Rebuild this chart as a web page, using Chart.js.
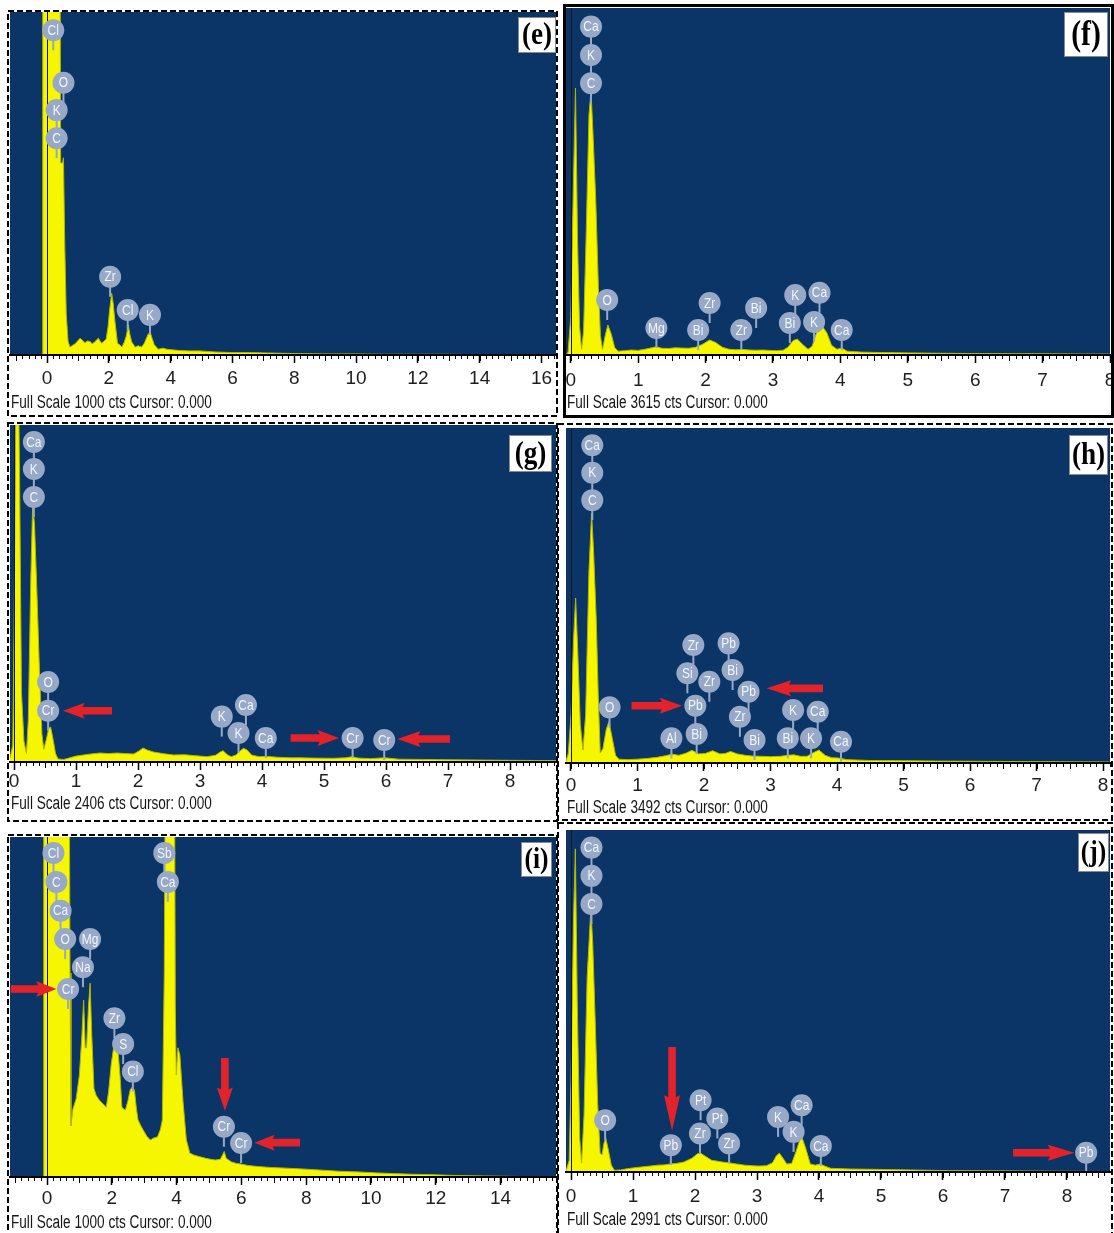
<!DOCTYPE html>
<html>
<head>
<meta charset="utf-8">
<title>EDS spectra (e)–(j)</title>
<script src="https://cdn.jsdelivr.net/npm/chart.js@4.4.1/dist/chart.umd.min.js"></script>
<style>
  html, body { margin: 0; padding: 0; background: #ffffff; width: 1114px; height: 1233px; overflow: hidden; }
  canvas { position: absolute; }
</style>
</head>
<body>
<script>
// ---------------- Spectrum data (energy in keV, intensity in counts) ----------------
const panelTags  = ['(e)', '(f)', '(g)', '(h)', '(i)', '(j)'];
const fullScales = [1000, 3615, 2406, 3492, 1000, 2991];

const eEnergy = [-1.2,-0.16,-0.14,0.05,0.25,0.41,0.44,0.50,0.53,0.57,0.62,0.68,0.74,0.82,0.90,0.98,1.07,1.15,1.23,1.31,1.39,1.46,1.53,1.60,1.66,1.72,1.77,1.84,1.91,1.97,2.02,2.09,2.14,2.20,2.28,2.35,2.42,2.50,2.56,2.63,2.68,2.74,2.85,2.95,3.06,3.15,3.22,3.28,3.34,3.40,3.47,3.60,3.75,3.87,4.05,4.30,4.60,4.95,5.40,6.00,6.60,7.10,7.60,8.20,9.00,10.0,11.0,12.0,13.0,14.0,15.0,16.0,16.5];
const eCounts = [0,0,1500,2600,2600,1500,560,560,575,330,120,40,23,28,32,40,49,42,36,41,39,33,37,44,49,40,34,40,46,80,128,180,150,95,34,30,23,38,55,87,60,38,23,27,23,35,50,62,66,48,30,17,20,17,15,13,12,12,9,7,7,6,5,4,3,3,2,2,2,1,1,1,1];

const fEnergy = [-0.07,-0.04,0.00,0.04,0.07,0.10,0.13,0.16,0.19,0.23,0.27,0.30,0.33,0.37,0.41,0.44,0.47,0.51,0.55,0.60,0.65,0.70,0.80,0.90,1.00,1.10,1.20,1.27,1.35,1.45,1.55,1.65,1.75,1.85,1.95,2.06,2.15,2.25,2.35,2.45,2.55,2.65,2.75,2.85,2.95,3.05,3.15,3.22,3.30,3.36,3.44,3.52,3.58,3.65,3.72,3.80,3.87,3.95,4.02,4.10,4.30,4.60,5.00,5.50,6.00,6.50,7.00,7.50,8.00];
const fCounts = [0,30,400,1800,2780,1200,300,60,250,1300,2500,2750,2300,1620,700,200,60,200,313,220,80,40,45,52,48,60,75,87,70,68,75,72,70,80,110,156,130,80,60,55,58,52,50,52,48,45,50,80,150,167,110,60,90,240,313,230,100,60,73,40,30,26,22,18,15,13,12,10,9];

const gEnergy = [-0.065,-0.02,0.00,0.03,0.06,0.09,0.12,0.16,0.20,0.23,0.27,0.30,0.33,0.37,0.41,0.45,0.48,0.52,0.56,0.59,0.63,0.67,0.71,0.80,0.90,1.00,1.12,1.25,1.39,1.52,1.66,1.80,1.93,2.02,2.08,2.15,2.25,2.40,2.57,2.75,2.89,3.00,3.11,3.25,3.32,3.37,3.44,3.50,3.58,3.65,3.70,3.76,3.83,3.95,4.08,4.25,4.45,4.61,4.80,5.00,5.15,5.35,5.45,5.55,5.75,5.98,6.20,6.60,7.00,7.50,8.00,8.74];
const gCounts = [30,120,900,2600,3200,2000,500,150,60,300,1300,1830,1700,1200,650,200,90,160,240,250,160,60,22,18,30,42,50,58,64,60,64,60,57,80,100,85,71,60,50,52,46,42,38,48,70,81,52,38,50,80,98,85,50,38,40,34,30,30,28,27,26,30,38,28,24,30,20,18,16,14,12,10];

const hEnergy = [-0.075,-0.04,0.00,0.04,0.07,0.10,0.14,0.18,0.22,0.27,0.31,0.34,0.38,0.41,0.44,0.48,0.53,0.57,0.62,0.67,0.72,0.85,1.00,1.15,1.30,1.42,1.52,1.62,1.72,1.82,1.92,2.02,2.13,2.24,2.32,2.40,2.50,2.62,2.72,2.85,3.00,3.15,3.26,3.35,3.45,3.55,3.65,3.73,3.82,3.92,4.02,4.15,4.50,5.00,5.50,6.00,6.50,7.00,7.50,8.10];
const hCounts = [20,100,500,1300,1720,1200,400,135,500,2000,2605,2200,1490,700,104,150,350,430,260,80,40,35,40,48,60,75,92,80,100,132,95,100,128,95,100,120,95,80,73,70,66,70,80,85,70,70,110,135,80,55,52,35,26,24,20,18,16,14,12,10];

const iEnergy = [-1.142,-0.12,-0.10,0.20,0.50,0.68,0.71,0.74,0.80,0.90,1.00,1.08,1.13,1.18,1.22,1.28,1.33,1.38,1.45,1.52,1.60,1.68,1.76,1.83,1.90,1.98,2.06,2.14,2.20,2.26,2.31,2.36,2.42,2.50,2.57,2.64,2.70,2.76,2.81,2.90,2.97,3.08,3.19,3.30,3.41,3.50,3.56,3.62,3.66,3.93,3.96,3.99,4.04,4.10,4.20,4.30,4.41,4.55,4.70,4.90,5.05,5.20,5.35,5.42,5.47,5.53,5.70,5.85,5.99,6.20,6.50,6.90,7.40,8.00,8.50,9.00,9.60,10.2,10.7,11.3,11.8,12.4,12.9,13.5,14.2,15.0,15.71];
const iCounts = [0,0,1400,2500,2500,1400,600,150,200,230,300,420,520,380,380,500,570,420,260,240,228,220,212,206,250,330,383,375,362,290,206,200,197,225,257,265,255,200,168,150,138,120,109,115,118,140,168,600,1400,1400,500,300,380,360,220,110,70,64,60,55,52,50,52,65,75,55,44,40,38,34,31,28,26,23,20,17,15,12,10,8,7,5,4,3,2,1,1];

const jEnergy = [-0.081,-0.03,0.00,0.04,0.07,0.10,0.14,0.17,0.21,0.26,0.32,0.35,0.39,0.43,0.47,0.50,0.53,0.56,0.60,0.65,0.70,0.80,0.90,0.99,1.10,1.20,1.28,1.40,1.50,1.60,1.70,1.82,1.95,2.04,2.09,2.16,2.27,2.36,2.44,2.55,2.67,2.80,2.92,3.02,3.15,3.25,3.31,3.36,3.42,3.48,3.56,3.63,3.69,3.73,3.79,3.86,3.94,4.02,4.10,4.19,4.50,4.94,5.50,6.09,6.70,7.24,8.00,8.69];
const jCounts = [10,100,800,2200,2826,1500,300,78,500,1700,2300,2000,1325,600,165,150,250,296,200,60,15,18,28,35,42,48,52,60,62,70,75,87,120,160,165,140,102,95,87,80,70,60,55,52,55,80,140,165,120,70,75,180,280,296,200,70,60,70,50,32,26,23,18,12,10,9,6,4];

// ---------------- Element markers: [symbol, energy keV, marker height in counts] ----------------
const eMarkers = [['Cl',0.20,947],['O',0.53,794],['K',0.31,714],['C',0.31,632],['Zr',2.04,228],['Cl',2.61,131],['K',3.33,117]];
const fMarkers = [['Ca',0.30,3421],['K',0.30,3126],['C',0.30,2831],['O',0.54,573],['Mg',1.27,281],['Bi',1.89,260],['Zr',2.06,542],['Zr',2.53,260],['Bi',2.75,490],['K',3.33,625],['Ca',3.69,649],['Bi',3.25,333],['K',3.61,344],['Ca',4.02,260]];
const gMarkers = [['Ca',0.32,2285],['K',0.32,2092],['C',0.32,1892],['O',0.55,571],['Cr',0.55,366],['K',3.35,324],['Ca',3.74,407],['K',3.62,207],['Ca',4.06,171],['Cr',5.46,171],['Cr',5.97,157]];
const hMarkers = [['Ca',0.32,3313],['K',0.32,3025],['C',0.32,2740],['O',0.58,580],['Zr',1.84,1230],['Pb',2.37,1247],['Si',1.75,935],['Bi',2.43,969],['Zr',2.08,847],['Pb',2.67,743],['Pb',1.87,597],['K',3.34,552],['Ca',3.71,535],['Zr',2.54,482],['Al',1.51,257],['Bi',1.89,302],['Bi',2.76,240],['Bi',3.26,257],['K',3.61,257],['Ca',4.06,222]];
const iMarkers = [['Cl',0.20,953],['Sb',3.62,953],['C',0.29,868],['Ca',3.73,868],['Ca',0.42,783],['O',0.56,700],['Mg',1.33,700],['Na',1.11,617],['Cr',0.65,553],['Zr',2.08,467],['S',2.35,391],['Cl',2.65,310],['Cr',5.46,148],['Cr',5.99,100]];
const jMarkers = [['Ca',0.33,2837],['K',0.33,2590],['C',0.33,2343],['O',0.55,453],['Pt',2.09,628],['Pt',2.36,468],['Zr',2.08,337],['Zr',2.55,250],['Pb',1.61,235],['K',3.34,482],['Ca',3.72,584],['K',3.59,351],['Ca',4.03,227],['Pb',8.31,168]];

// ---------------- Highlight arrows: [tail keV, tail counts, tip keV, tip counts] ----------------
const eArrows = [];
const fArrows = [];
const gArrows = [[1.58,366,0.79,366],[4.46,171,5.24,171],[7.03,164,6.18,164]];
const hArrows = [[0.91,597,1.67,597],[3.79,778,2.94,778]];
const iArrows = [[-1.12,553,0.29,553],[5.49,350,5.49,195],[7.81,101,6.40,101]];
const jArrows = [[1.63,1093,1.63,360],[7.13,168,8.12,168]];

const spectra = [
  { energy: eEnergy, counts: eCounts, markers: eMarkers, arrows: eArrows },
  { energy: fEnergy, counts: fCounts, markers: fMarkers, arrows: fArrows },
  { energy: gEnergy, counts: gCounts, markers: gMarkers, arrows: gArrows },
  { energy: hEnergy, counts: hCounts, markers: hMarkers, arrows: hArrows },
  { energy: iEnergy, counts: iCounts, markers: iMarkers, arrows: iArrows },
  { energy: jEnergy, counts: jCounts, markers: jMarkers, arrows: jArrows }
];

// ---------------- Panel geometry (page pixels) ----------------
const panels = [
  { frame:{x:7,  y:10,  w:551, h:407, solid:false}, area:{l:10,  t:12,  r:556,  b:355},  xMin:-1.2,   xMax:16.47, step:2, minor:0.2, mid:1,   tickPad:4, footerDy:53, tag:{cx:537,   cy:35,    w:38, h:36, size:32} },
  { frame:{x:563,y:4,   w:551, h:414, solid:true},  area:{l:566, t:8,   r:1110, b:355},  xMin:-0.071, xMax:8.0,   step:1, minor:0.1, mid:0.5, tickPad:6, footerDy:53, tag:{cx:1086,  cy:34.5,  w:44, h:45, size:35} },
  { frame:{x:7,  y:422, w:551, h:400, solid:false}, area:{l:10,  t:425, r:556,  b:762},  xMin:-0.065, xMax:8.74,  step:1, minor:0.1, mid:0.5, tickPad:0, footerDy:47, tag:{cx:530.5, cy:453.5, w:43, h:37, size:32} },
  { frame:{x:557,y:423, w:556, h:398, solid:false}, area:{l:566, t:428, r:1110, b:763},  xMin:-0.075, xMax:8.105, step:1, minor:0.1, mid:0.5, tickPad:3, footerDy:50, tag:{cx:1088.5,cy:455,   w:39, h:40, size:32} },
  { frame:{x:7,  y:834, w:551, h:402, solid:false}, area:{l:10,  t:837, r:556,  b:1177}, xMin:-1.142, xMax:15.71, step:2, minor:0.2, mid:1,   tickPad:2, footerDy:51, tag:{cx:536.5, cy:859.5, w:31, h:35, size:30} },
  { frame:{x:557,y:822, w:556, h:414, solid:false}, area:{l:566, t:830, r:1110, b:1172}, xMin:-0.081, xMax:8.694, step:1, minor:0.1, mid:0.5, tickPad:5, footerDy:53, tag:{cx:1093.5,cy:852.5, w:31, h:39, size:30} }
];

const NAVY = '#0a3566';
const SPECTRUM_FILL = '#f6f600';
const SPECTRUM_EDGE = '#b3b600';
const MARK_FILL = '#97a9c6';
const MARK_TEXT = '#f2f5fa';
const ARROW_RED = '#e3232b';
const FONT_SANS = "'Liberation Sans', Arial, sans-serif";
const FONT_NARROW = "'Liberation Sans Narrow', 'Arial Narrow', 'Liberation Sans', sans-serif";

function drawArrow(ctx, x1, y1, x2, y2) {
  const dx = x2 - x1, dy = y2 - y1, len = Math.hypot(dx, dy);
  const head = Math.max(18, len * 0.4);
  ctx.save();
  ctx.translate(x1, y1);
  ctx.rotate(Math.atan2(dy, dx));
  ctx.fillStyle = ARROW_RED;
  ctx.beginPath();
  ctx.moveTo(0, -3.8);
  ctx.lineTo(len - head, -3.8);
  ctx.lineTo(len - head - 2, -8);
  ctx.lineTo(len, 0);
  ctx.lineTo(len - head - 2, 8);
  ctx.lineTo(len - head, 3.8);
  ctx.lineTo(0, 3.8);
  ctx.closePath();
  ctx.fill();
  ctx.restore();
}

function drawMarker(ctx, symbol, px, py) {
  const r = 11;
  ctx.fillStyle = MARK_FILL;
  ctx.fillRect(px - 1, py + r - 2, 2, 11);
  ctx.beginPath();
  ctx.arc(px, py, r, 0, Math.PI * 2);
  ctx.fill();
  ctx.save();
  ctx.translate(px, py + 0.5);
  ctx.scale(0.8, 1);
  ctx.fillStyle = MARK_TEXT;
  ctx.font = '15px ' + FONT_SANS;
  ctx.textAlign = 'center';
  ctx.textBaseline = 'middle';
  ctx.fillText(symbol, 0, 0);
  ctx.restore();
}

// Draws the navy plot field, cursor line, peak markers, arrows, minor ticks, caption, tag and frame.
const edsDecor = {
  id: 'edsDecor',
  beforeDraw(chart) {
    const { ctx, chartArea: a } = chart;
    ctx.save();
    ctx.fillStyle = NAVY;
    ctx.fillRect(a.left, a.top, a.right - a.left, a.bottom - a.top);
    ctx.restore();
  },
  afterDatasetsDraw(chart) {
    const o = chart.options.plugins.edsDecor;
    const { ctx, chartArea: a } = chart;
    const x = chart.scales.x, y = chart.scales.y;
    ctx.save();
    ctx.beginPath();
    ctx.rect(a.left, a.top, a.right - a.left, a.bottom - a.top);
    ctx.clip();
    const cx = Math.round(x.getPixelForValue(0)) + 0.5;
    ctx.strokeStyle = '#141414';
    ctx.lineWidth = 1;
    ctx.beginPath();
    ctx.moveTo(cx, a.top);
    ctx.lineTo(cx, a.bottom);
    ctx.stroke();
    o.arrows.forEach(ar => drawArrow(ctx,
      x.getPixelForValue(ar[0]), y.getPixelForValue(ar[1]),
      x.getPixelForValue(ar[2]), y.getPixelForValue(ar[3])));
    o.markers.forEach(m => drawMarker(ctx, m[0], x.getPixelForValue(m[1]), y.getPixelForValue(m[2])));
    ctx.restore();
  },
  afterDraw(chart) {
    const o = chart.options.plugins.edsDecor;
    const p = o.panel;
    const { ctx, chartArea: a } = chart;
    const x = chart.scales.x;
    ctx.save();
    // axis line and minor ticks
    ctx.fillStyle = '#000';
    ctx.fillRect(a.left, a.bottom - 1, a.right - a.left, 2);
    ctx.strokeStyle = '#000';
    ctx.lineWidth = 1;
    ctx.beginPath();
    for (let k = Math.ceil(p.xMin / p.minor); k * p.minor <= p.xMax + 1e-9; k++) {
      const v = k * p.minor;
      const px = Math.round(x.getPixelForValue(v)) + 0.5;
      const q = v / p.mid;
      const len = Math.abs(q - Math.round(q)) < 1e-6 ? 6 : 4;
      ctx.moveTo(px, a.bottom);
      ctx.lineTo(px, a.bottom + len);
    }
    ctx.stroke();
    // caption
    ctx.save();
    ctx.fillStyle = '#151515';
    ctx.font = '18px ' + FONT_SANS;
    ctx.textBaseline = 'alphabetic';
    ctx.translate(a.left + 1, a.bottom + p.footerDy);
    ctx.scale(0.755, 1);
    ctx.fillText('Full Scale ' + o.fullScale + ' cts Cursor: 0.000', 0, 0);
    ctx.restore();
    // panel tag
    const tx = p.tag.cx - p.frame.x, ty = p.tag.cy - p.frame.y;
    ctx.fillStyle = '#ffffff';
    ctx.fillRect(tx - p.tag.w / 2, ty - p.tag.h / 2, p.tag.w, p.tag.h);
    ctx.strokeStyle = '#8a8a8a';
    ctx.lineWidth = 1;
    ctx.strokeRect(tx - p.tag.w / 2 + 0.5, ty - p.tag.h / 2 + 0.5, p.tag.w - 1, p.tag.h - 1);
    ctx.save();
    ctx.translate(tx, ty + 1);
    ctx.scale(0.85, 1);
    ctx.fillStyle = '#000';
    ctx.font = 'bold ' + p.tag.size + "px 'Liberation Serif', 'Times New Roman', serif";
    ctx.textAlign = 'center';
    ctx.textBaseline = 'middle';
    ctx.fillText(o.tag, 0, 0);
    ctx.restore();
    // frame
    ctx.strokeStyle = '#000';
    if (p.frame.solid) {
      ctx.lineWidth = 3;
      ctx.strokeRect(1.5, 1.5, p.frame.w - 3, p.frame.h - 3);
    } else {
      ctx.lineWidth = 2;
      ctx.setLineDash([6, 3]);
      ctx.strokeRect(1, 1, p.frame.w - 2, p.frame.h - 2);
    }
    ctx.restore();
  }
};

panels.forEach((p, idx) => {
  const s = spectra[idx];
  const cv = document.createElement('canvas');
  cv.width = p.frame.w;
  cv.height = p.frame.h;
  cv.style.left = p.frame.x + 'px';
  cv.style.top = p.frame.y + 'px';
  cv.style.width = p.frame.w + 'px';
  cv.style.height = p.frame.h + 'px';
  document.body.appendChild(cv);
  const strip = p.frame.y + p.frame.h - p.area.b;

  new Chart(cv, {
    type: 'line',
    data: {
      datasets: [{
        data: s.energy.map((e, i) => ({ x: e, y: s.counts[i] })),
        fill: 'origin',
        backgroundColor: SPECTRUM_FILL,
        borderColor: SPECTRUM_EDGE,
        borderWidth: 1,
        pointRadius: 0,
        tension: 0
      }]
    },
    options: {
      responsive: false,
      animation: false,
      devicePixelRatio: 1,
      events: [],
      layout: { padding: { left: p.area.l - p.frame.x, top: p.area.t - p.frame.y, right: p.frame.x + p.frame.w - p.area.r, bottom: 0 } },
      plugins: {
        legend: { display: false },
        tooltip: { enabled: false },
        edsDecor: { panel: p, markers: s.markers, arrows: s.arrows, tag: panelTags[idx], fullScale: fullScales[idx] }
      },
      scales: {
        x: {
          type: 'linear',
          min: p.xMin,
          max: p.xMax,
          afterFit(scale) { scale.height = strip; scale.paddingLeft = 0; scale.paddingRight = 0; },
          ticks: {
            stepSize: p.step,
            includeBounds: false,
            autoSkip: false,
            maxRotation: 0,
            padding: p.tickPad,
            color: '#1e1e1e',
            font: { family: FONT_NARROW, size: 19 },
            callback: v => String(Math.round(v))
          },
          grid: { drawOnChartArea: false, drawTicks: true, tickLength: 8, tickWidth: 1.5, tickColor: '#000' },
          border: { display: true, color: '#000', width: 2 }
        },
        y: { display: false, min: 0, max: fullScales[idx] }
      }
    },
    plugins: [edsDecor]
  });
});
</script>
</body>
</html>
